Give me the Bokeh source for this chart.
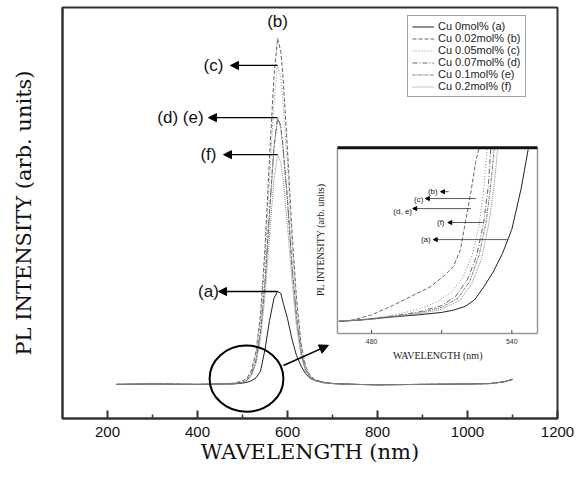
import numpy as np
from bokeh.plotting import figure
from bokeh.models import (Range1d, Arrow, NormalHead, Legend, LegendItem,
                          FixedTicker)
from bokeh.core.properties import value
from bokeh.embed import file_html
from bokeh.resources import INLINE

# ---------------- main spectra (baseline = 0, arbitrary units) ----------------
wavelength = [220, 300, 400, 450, 480, 500, 510, 520, 530, 540, 550, 560, 570, 578,
              585, 590, 600, 610, 620, 630, 640, 650, 660, 680, 700, 750, 800, 900,
              1000, 1050, 1080, 1100]
pl_a = [0, 0.1, 0, 0.1, 0.1, 0.3, 0.5, 0.9, 1.6, 3.2, 8.5, 15.5, 21, 22.6,
        22.2, 20, 16, 11, 7, 4.5, 2.6, 1.5, 1.0, 0.5, 0.2, 0, -0.1, 0,
        0.1, 0.2, 0.6, 1.2]
pl_b = [0, 0.1, 0, 0.1, 0.3, 0.8, 1.5, 3.5, 8, 17, 33, 55, 75, 84.2,
        81, 75, 57, 37, 21, 10, 4.5, 2.2, 1.2, 0.5, 0.2, 0, -0.1, 0,
        0.1, 0.2, 0.6, 1.2]
pl_c = [0, 0.1, 0, 0.1, 0.2, 0.6, 1.2, 3.0, 7, 15.5, 30, 50, 69, 77.6,
        75, 69, 53, 34, 19.5, 9.5, 4.2, 2.0, 1.1, 0.5, 0.2, 0, -0.1, 0,
        0.1, 0.2, 0.6, 1.2]
pl_d = [0, 0.1, 0, 0.1, 0.2, 0.5, 1.0, 2.6, 6, 13, 25, 42, 58, 64.9,
        63, 58, 45, 29, 16.5, 8, 3.6, 1.8, 1.0, 0.4, 0.2, 0, -0.1, 0,
        0.1, 0.2, 0.6, 1.2]
pl_e = [0, 0.1, 0, 0.1, 0.2, 0.5, 1.0, 2.4, 5.5, 12.5, 24.5, 41.5, 57.5, 64.6,
        62.5, 57.5, 44.5, 28.5, 16, 7.8, 3.5, 1.8, 1.0, 0.4, 0.2, 0, -0.1, 0,
        0.1, 0.2, 0.6, 1.2]
pl_f = [0, 0.1, 0, 0.1, 0.2, 0.4, 0.9, 2.2, 5, 11, 21.5, 36, 50, 55.9,
        54, 50, 38.5, 25, 14, 7, 3.2, 1.6, 0.9, 0.4, 0.2, 0, -0.1, 0,
        0.1, 0.2, 0.6, 1.2]

legend_labels = ["Cu 0mol% (a)", "Cu 0.02mol% (b)", "Cu 0.05mol% (c)",
                 "Cu 0.07mol% (d)", "Cu 0.1mol% (e)", "Cu 0.2mol% (f)"]
x_ticks = [200, 400, 600, 800, 1000, 1200]
x_minor = [300, 500, 700, 900, 1100]

# ---------------- inset spectra (fraction of inset height) ----------------
inset_wl_a = [466, 475, 485, 490, 500, 510, 515, 520, 524, 528, 532, 536, 540, 544, 547]
inset_pl_a = [0.065, 0.072, 0.085, 0.09, 0.10, 0.113, 0.125, 0.145, 0.18, 0.25, 0.33,
              0.43, 0.56, 0.78, 0.99]
inset_wl_b = [466, 472, 480, 489, 497, 505, 511, 515, 518, 520, 522.5, 524.5, 526]
inset_pl_b = [0.065, 0.072, 0.10, 0.15, 0.20, 0.25, 0.31, 0.36, 0.45, 0.59, 0.76, 0.92, 1.0]
inset_wl_c = [466, 480, 490, 500, 508, 514, 519, 523, 526, 528, 529.5]
inset_pl_c = [0.065, 0.08, 0.10, 0.13, 0.17, 0.22, 0.30, 0.42, 0.58, 0.78, 1.0]
inset_wl_d = [466, 480, 490, 500, 510, 516, 521, 525, 528, 530, 531]
inset_pl_d = [0.065, 0.078, 0.095, 0.115, 0.15, 0.20, 0.29, 0.42, 0.60, 0.80, 1.0]
inset_wl_e = [466, 480, 490, 500, 510, 517, 522, 526, 529, 531, 532.5]
inset_pl_e = [0.065, 0.077, 0.092, 0.11, 0.14, 0.19, 0.28, 0.42, 0.60, 0.80, 1.0]
inset_wl_f = [466, 480, 490, 500, 510, 518, 523, 527, 530, 532.5, 534]
inset_pl_f = [0.065, 0.075, 0.088, 0.105, 0.13, 0.18, 0.27, 0.40, 0.58, 0.80, 1.0]
inset_ticks = [480, 510, 540]
inset_tick_labels = ["480", "", "540"]

# ---------------- figure ----------------
p = figure(width=574, height=470, x_range=Range1d(100, 1200), y_range=Range1d(-8.3, 91.7),
           output_backend="svg", toolbar_location=None,
           min_border_left=62, min_border_right=17, min_border_top=7, min_border_bottom=52)
p.xgrid.visible = False
p.ygrid.visible = False
p.outline_line_color = "#333333"
p.outline_line_width = 2
p.background_fill_color = "white"

ax = p.xaxis[0]
ax.ticker = FixedTicker(ticks=x_ticks, minor_ticks=x_minor)
ax.major_tick_in = 8
ax.major_tick_out = 0
ax.minor_tick_in = 4
ax.minor_tick_out = 0
ax.major_tick_line_width = 2
ax.minor_tick_line_width = 1.5
ax.major_tick_line_color = "#333333"
ax.minor_tick_line_color = "#333333"
ax.axis_line_width = 2
ax.axis_line_color = "#333333"
ax.major_label_text_font = "Liberation Sans"
ax.major_label_text_font_size = "15px"
ax.major_label_text_color = "#111111"
ax.major_label_standoff = 8
ax.axis_label = "WAVELENGTH (nm)"
ax.axis_label_text_font = "DejaVu Serif"
ax.axis_label_text_font_size = "21px"
ax.axis_label_text_font_style = "normal"
ax.axis_label_text_color = "#111111"
ax.axis_label_standoff = 0

ay = p.yaxis[0]
ay.ticker = FixedTicker(ticks=[])
ay.major_label_text_font_size = "0px"
ay.major_tick_in = 0
ay.major_tick_out = 0
ay.minor_tick_in = 0
ay.minor_tick_out = 0
ay.major_label_standoff = 0
ay.axis_line_width = 2
ay.axis_line_color = "#333333"
ay.axis_label = "PL INTENSITY (arb. units)"
ay.axis_label_text_font = "DejaVu Serif"
ay.axis_label_text_font_size = "21px"
ay.axis_label_text_font_style = "normal"
ay.axis_label_text_color = "#111111"
ay.axis_label_standoff = 27

series = [pl_a, pl_b, pl_c, pl_d, pl_e, pl_f]
colors = ["#222222", "#666666", "#888888", "#666666", "#777777", "#888888"]
dashes = ["solid", "4 2", "1 2", "5 2 1 2", "3 1 1 1", "1 1"]
renderers = []
for ys, c, d in zip(series, colors, dashes):
    r = p.line(wavelength, ys, line_color=c, line_width=1, line_dash=d)
    renderers.append(r)

legend = Legend(items=[LegendItem(label=l, renderers=[r]) for l, r in zip(legend_labels, renderers)],
                location=(345, 321), orientation="vertical",
                label_text_font="Liberation Sans", label_text_font_size="11px",
                label_text_color="#222222", glyph_width=22, glyph_height=9,
                label_height=9, spacing=-2, padding=4, margin=0, label_standoff=4,
                border_line_color="#444444", border_line_width=1,
                background_fill_color="white", background_fill_alpha=1)
p.add_layout(legend, "center")

# ---------------- peak labels and arrows ----------------
peak_idx = [int(np.argmax(s)) for s in series]
peak_x = [wavelength[i] for i in peak_idx]
peak_y = [max(s) for s in series]

# (a), (c), (d)(e), (f) arrows point leftwards from the peaks
arrow_series = [0, 2, 3, 5]
arrow_tip_x = [446.7, 473.3, 424.4, 457.8]
label_text = ["(a)", "(c)", "(d) (e)", "(f)"]
label_x = [424.4, 435.6, 362.2, 424.4]
for k, si in enumerate(arrow_series):
    p.add_layout(Arrow(end=NormalHead(size=8, fill_color="black", line_color="black"),
                       x_start=peak_x[si], y_start=peak_y[si], x_end=arrow_tip_x[k],
                       y_end=peak_y[si], line_width=1.3, line_color="black"))
p.text(x=label_x, y=[peak_y[si] for si in arrow_series], text=label_text,
       text_font=value("Liberation Sans"), text_font_size="17px", text_color="#111111",
       text_align="center", text_baseline="middle")
p.text(x=[peak_x[1]], y=[peak_y[1] + 4.2], text=["(b)"],
       text_font=value("Liberation Sans"), text_font_size="17px", text_color="#111111",
       text_align="center", text_baseline="middle")

# magnifying circle and arrow
p.ellipse(x=[508.9], y=[1.4], width=164, height=16.1, fill_color=None,
          line_color="black", line_width=2)
p.add_layout(Arrow(end=NormalHead(size=9, fill_color="black", line_color="black"),
                   x_start=591, y_start=4.6, x_end=691, y_end=9.5,
                   line_width=1.5, line_color="black"))

# ---------------- inset ----------------
ix0, ix1 = 465.4, 551.0
tx0, tx1 = 711.0, 1155.6
ty0, ty1 = 12.4, 57.6
inset = p.subplot(x_source=Range1d(ix0, ix1), y_source=Range1d(0, 1),
                  x_target=Range1d(tx0, tx1), y_target=Range1d(ty0, ty1))

def to_parent(x, y):
    return (tx0 + (x - ix0) / (ix1 - ix0) * (tx1 - tx0),
            ty0 + y * (ty1 - ty0))

inset.quad(left=[ix0], right=[ix1], bottom=[0], top=[1], fill_color="white", line_color=None)
inset_series = [(inset_wl_a, inset_pl_a), (inset_wl_b, inset_pl_b), (inset_wl_c, inset_pl_c),
                (inset_wl_d, inset_pl_d), (inset_wl_e, inset_pl_e), (inset_wl_f, inset_pl_f)]
for (xs, ys), c, d in zip(inset_series, colors, dashes):
    inset.line(xs, ys, line_color=c, line_width=1, line_dash=d)

inset.segment(x0=[ix0, ix0, ix1], y0=[0, 0, 0], x1=[ix0, ix1, ix1], y1=[1, 0, 1],
              line_color="#999999", line_width=1.5)
inset.segment(x0=[ix0], y0=[1], x1=[ix1], y1=[1], line_color="#111111", line_width=3)
inset.segment(x0=inset_ticks, y0=[0] * 3, x1=inset_ticks, y1=[0.018] * 3,
              line_color="#444444", line_width=1)
inset.text(x=inset_ticks, y=[-0.045] * 3, text=inset_tick_labels,
           text_font=value("Liberation Sans"), text_font_size="7px", text_color="#333333",
           text_align="center", text_baseline="middle")
inset.text(x=[508.3], y=[-0.12], text=["WAVELENGTH (nm)"],
           text_font=value("Liberation Serif"), text_font_size="10px", text_color="#222222",
           text_align="center", text_baseline="middle")
inset.text(x=[458.1], y=[0.505], text=["PL INTENSITY (arb. units)"], angle=np.pi / 2,
           text_font=value("Liberation Serif"), text_font_size="10px", text_color="#222222",
           text_align="center", text_baseline="middle")

# inset labels and arrows (arrows start on the curves)
in_lab_text = ["(b)", "(c)", "(d, e)", "(f)", "(a)"]
in_lab_x = [506.2, 500.2, 493.3, 509.6, 503.2]
in_lab_y = [0.763, 0.72, 0.656, 0.597, 0.505]
in_arr_x0 = [513.0, 524.6, 522.5, 527.6, 538.4]
in_arr_x1 = [509.5, 503.0, 497.6, 512.6, 506.4]
in_arr_y = [0.763, 0.726, 0.672, 0.597, 0.505]
inset.text(x=in_lab_x, y=in_lab_y, text=in_lab_text,
           text_font=value("Liberation Sans"), text_font_size="8px", text_color="#222222",
           text_align="center", text_baseline="middle")
for x0, x1, y in zip(in_arr_x0, in_arr_x1, in_arr_y):
    ps = to_parent(x0, y)
    pe = to_parent(x1, y)
    p.add_layout(Arrow(end=NormalHead(size=4, fill_color="black", line_color="black"),
                       x_start=ps[0], y_start=ps[1], x_end=pe[0], y_end=pe[1],
                       line_width=0.8, line_color="#333333"))

open("out.html", "w").write(file_html(p, INLINE))
